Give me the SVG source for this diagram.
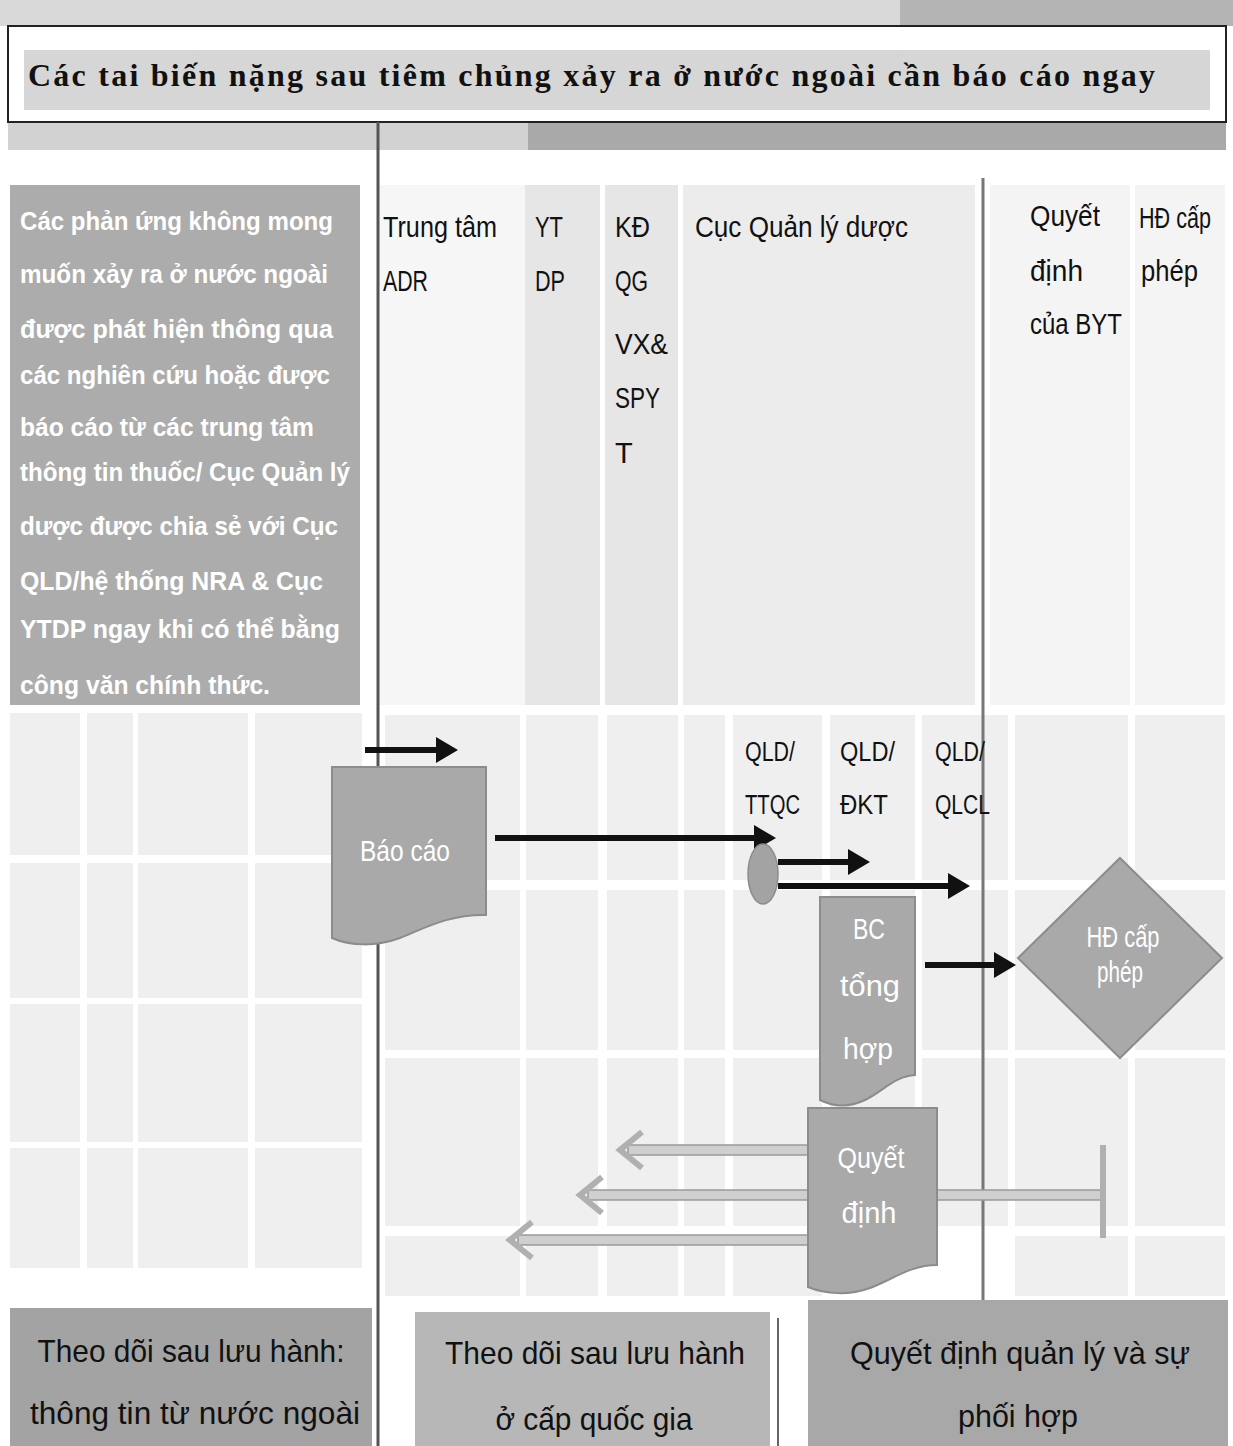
<svg xmlns="http://www.w3.org/2000/svg" width="1233" height="1446" viewBox="0 0 1233 1446">
<style>
.hdr{font-family:"Liberation Sans","Noto Sans",sans-serif;font-size:29px;fill:#111;}
.sub{font-family:"Liberation Sans","Noto Sans",sans-serif;font-size:27px;fill:#111;}
.wt{font-family:"Liberation Sans","Noto Sans",sans-serif;font-size:29px;fill:#fff;}
.lt{font-family:"Liberation Sans","Noto Sans",sans-serif;font-size:26px;fill:#fff;font-weight:bold;}
.bt{font-family:"Liberation Sans","Noto Sans",sans-serif;font-size:32px;fill:#111;}
.cell{fill:#efefef;}
.ucol{fill:#e6e6e6;}
.shape{fill:#a9a9a9;stroke:#8c8c8c;stroke-width:2;}
.blk{stroke:#111;stroke-width:6;fill:none;}
.garr{fill:#cfcfcf;stroke:#9a9a9a;stroke-width:1.5;}
.ghead{fill:none;stroke:#b0b0b0;stroke-width:6;stroke-linejoin:miter;}
</style>
<defs>
<marker id="ah" markerUnits="userSpaceOnUse" markerWidth="22" markerHeight="26" refX="2" refY="13" orient="auto">
<path d="M0,0 L22,13 L0,26 Z" fill="#111"/>
</marker>
</defs>
<rect width="1233" height="1446" fill="#fff"/>
<g id="background">
<rect x="0" y="0" width="1233" height="26" fill="#d9d9d9"/>
<rect x="900" y="0" width="333" height="26" fill="#b4b4b4"/>
<rect x="8" y="122" width="520" height="28" fill="#d2d2d2"/>
<rect x="528" y="122" width="698" height="28" fill="#a9a9a9"/>
<rect x="378" y="185" width="147" height="520" fill="#f6f6f6"/>
<rect class="ucol" x="525" y="185" width="75" height="520"/>
<rect class="ucol" x="605" y="185" width="73" height="520"/>
<rect x="683" y="185" width="292" height="520" fill="#ececec"/>
<rect x="990" y="185" width="140" height="520" fill="#f4f4f4"/>
<rect x="1135" y="185" width="90" height="520" fill="#f4f4f4"/>
<g id="grid">
<rect class="cell" x="10" y="713" width="70" height="142"/><rect class="cell" x="87" y="713" width="46" height="142"/><rect class="cell" x="138" y="713" width="110" height="142"/><rect class="cell" x="255" y="713" width="107" height="142"/>
<rect class="cell" x="10" y="863" width="70" height="135"/><rect class="cell" x="87" y="863" width="46" height="135"/><rect class="cell" x="138" y="863" width="110" height="135"/><rect class="cell" x="255" y="863" width="107" height="135"/>
<rect class="cell" x="10" y="1004" width="70" height="138"/><rect class="cell" x="87" y="1004" width="46" height="138"/><rect class="cell" x="138" y="1004" width="110" height="138"/><rect class="cell" x="255" y="1004" width="107" height="138"/>
<rect class="cell" x="10" y="1148" width="70" height="120"/><rect class="cell" x="87" y="1148" width="46" height="120"/><rect class="cell" x="138" y="1148" width="110" height="120"/><rect class="cell" x="255" y="1148" width="107" height="120"/>
<rect class="cell" x="385" y="715" width="135" height="165"/><rect class="cell" x="526" y="715" width="72" height="165"/><rect class="cell" x="607" y="715" width="71" height="165"/><rect class="cell" x="684" y="715" width="41" height="165"/><rect class="cell" x="733" y="715" width="89" height="165"/><rect class="cell" x="830" y="715" width="85" height="165"/><rect class="cell" x="922" y="715" width="86" height="165"/><rect class="cell" x="1015" y="715" width="113" height="165"/><rect class="cell" x="1135" y="715" width="90" height="165"/>
<rect class="cell" x="385" y="890" width="135" height="160"/><rect class="cell" x="526" y="890" width="72" height="160"/><rect class="cell" x="607" y="890" width="71" height="160"/><rect class="cell" x="684" y="890" width="41" height="160"/><rect class="cell" x="733" y="890" width="89" height="160"/><rect class="cell" x="830" y="890" width="85" height="160"/><rect class="cell" x="922" y="890" width="86" height="160"/><rect class="cell" x="1015" y="890" width="113" height="160"/><rect class="cell" x="1135" y="890" width="90" height="160"/>
<rect class="cell" x="385" y="1058" width="135" height="168"/><rect class="cell" x="526" y="1058" width="72" height="168"/><rect class="cell" x="607" y="1058" width="71" height="168"/><rect class="cell" x="684" y="1058" width="41" height="168"/><rect class="cell" x="733" y="1058" width="89" height="168"/><rect class="cell" x="830" y="1058" width="85" height="168"/><rect class="cell" x="922" y="1058" width="86" height="168"/><rect class="cell" x="1015" y="1058" width="113" height="168"/><rect class="cell" x="1135" y="1058" width="90" height="168"/>
<rect class="cell" x="385" y="1236" width="135" height="60"/><rect class="cell" x="526" y="1236" width="72" height="60"/><rect class="cell" x="607" y="1236" width="71" height="60"/><rect class="cell" x="684" y="1236" width="41" height="60"/><rect class="cell" x="733" y="1236" width="89" height="60"/><rect class="cell" x="1015" y="1236" width="113" height="60"/><rect class="cell" x="1135" y="1236" width="90" height="60"/>
</g>
</g>
<g id="title">
<rect x="8" y="26" width="1218" height="96" fill="#fff" stroke="#222" stroke-width="2"/>
<rect x="24" y="50" width="1186" height="60" fill="#d6d6d6"/>
<text x="28" y="86" font-family="'Liberation Serif','Noto Serif',serif" font-size="32" font-weight="bold" fill="#111" textLength="1127" lengthAdjust="spacing">Các tai biến nặng sau tiêm chủng xảy ra ở nước ngoài cần báo cáo ngay</text>
</g>
<g id="lane-lines">
<line x1="378" y1="122" x2="378" y2="1446" stroke="#555" stroke-width="3"/>
<line x1="983" y1="178" x2="983" y2="1310" stroke="#777" stroke-width="3"/>
<line x1="778" y1="1318" x2="778" y2="1446" stroke="#666" stroke-width="2"/>
</g>
<g id="note-foreign">
<rect x="10" y="185" width="350" height="520" fill="#acacac"/>
<text class="lt" x="20" y="230" textLength="313" lengthAdjust="spacingAndGlyphs">Các phản ứng không mong</text>
<text class="lt" x="20" y="283" textLength="308" lengthAdjust="spacingAndGlyphs">muốn xảy ra ở nước ngoài</text>
<text class="lt" x="20" y="338" textLength="313" lengthAdjust="spacingAndGlyphs">được phát hiện thông qua</text>
<text class="lt" x="20" y="384" textLength="310" lengthAdjust="spacingAndGlyphs">các nghiên cứu hoặc được</text>
<text class="lt" x="20" y="436" textLength="294" lengthAdjust="spacingAndGlyphs">báo cáo từ các trung tâm</text>
<text class="lt" x="20" y="481" textLength="330" lengthAdjust="spacingAndGlyphs">thông tin thuốc/ Cục Quản lý</text>
<text class="lt" x="20" y="535" textLength="318" lengthAdjust="spacingAndGlyphs">dược được chia sẻ với Cục</text>
<text class="lt" x="20" y="590" textLength="303" lengthAdjust="spacingAndGlyphs">QLD/hệ thống NRA &amp; Cục</text>
<text class="lt" x="20" y="638" textLength="320" lengthAdjust="spacingAndGlyphs">YTDP ngay khi có thể bằng</text>
<text class="lt" x="20" y="694" textLength="250" lengthAdjust="spacingAndGlyphs">công văn chính thức.</text>
</g>
<g id="headers">
<text class="hdr" x="383" y="237" textLength="114" lengthAdjust="spacingAndGlyphs">Trung tâm</text>
<text class="hdr" x="383" y="291" textLength="45" lengthAdjust="spacingAndGlyphs">ADR</text>
<text class="hdr" x="535" y="237" textLength="28" lengthAdjust="spacingAndGlyphs">YT</text>
<text class="hdr" x="535" y="291" textLength="30" lengthAdjust="spacingAndGlyphs">DP</text>
<text class="hdr" x="615" y="237" textLength="35" lengthAdjust="spacingAndGlyphs">KĐ</text>
<text class="hdr" x="615" y="291" textLength="33" lengthAdjust="spacingAndGlyphs">QG</text>
<text class="hdr" x="615" y="354" textLength="53" lengthAdjust="spacingAndGlyphs">VX&amp;</text>
<text class="hdr" x="615" y="408" textLength="45" lengthAdjust="spacingAndGlyphs">SPY</text>
<text class="hdr" x="615" y="463">T</text>
<text class="hdr" x="695" y="237" textLength="213" lengthAdjust="spacingAndGlyphs">Cục Quản lý dược</text>
<text class="hdr" x="1030" y="226" textLength="70" lengthAdjust="spacingAndGlyphs">Quyết</text>
<text class="hdr" x="1030" y="281" textLength="53" lengthAdjust="spacingAndGlyphs">định</text>
<text class="hdr" x="1030" y="334" textLength="92" lengthAdjust="spacingAndGlyphs">của BYT</text>
<text class="hdr" x="1139" y="228" font-size="23" textLength="72" lengthAdjust="spacingAndGlyphs">HĐ cấp</text>
<text class="hdr" x="1141" y="281" font-size="27" textLength="57" lengthAdjust="spacingAndGlyphs">phép</text>
<text class="sub" x="745" y="761" textLength="50" lengthAdjust="spacingAndGlyphs">QLD/</text>
<text class="sub" x="745" y="814" textLength="55" lengthAdjust="spacingAndGlyphs">TTQC</text>
<text class="sub" x="840" y="761" textLength="55" lengthAdjust="spacingAndGlyphs">QLD/</text>
<text class="sub" x="840" y="814" textLength="48" lengthAdjust="spacingAndGlyphs">ĐKT</text>
<text class="sub" x="935" y="761" textLength="50" lengthAdjust="spacingAndGlyphs">QLD/</text>
<text class="sub" x="935" y="814" textLength="55" lengthAdjust="spacingAndGlyphs">QLCL</text>
</g>
<g id="connectors">
<line class="blk" x1="365" y1="750" x2="438" y2="750" marker-end="url(#ah)"/>
<line class="blk" x1="495" y1="838" x2="756" y2="838" marker-end="url(#ah)"/>
<line class="blk" x1="778" y1="862" x2="850" y2="862" marker-end="url(#ah)"/>
<line class="blk" x1="778" y1="886" x2="950" y2="886" marker-end="url(#ah)"/>
<line class="blk" x1="925" y1="965" x2="996" y2="965" marker-end="url(#ah)"/>
<g id="return-arrows">
<rect class="garr" x="628" y="1145" width="180" height="10"/>
<polyline class="ghead" points="642,1132 620,1150 642,1168"/>
<rect class="garr" x="588" y="1190" width="220" height="10"/>
<polyline class="ghead" points="602,1177 580,1195 602,1213"/>
<rect class="garr" x="518" y="1235" width="290" height="10"/>
<polyline class="ghead" points="532,1222 510,1240 532,1258"/>
<rect class="garr" x="937" y="1190" width="166" height="10"/>
<line x1="1103" y1="1145" x2="1103" y2="1238" stroke="#b0b0b0" stroke-width="6"/>
</g>
</g>
<g id="node-baocao">
<path class="shape" d="M332,767 H486 V915 C450,914 425,928 400,938 C375,947 350,946 332,938 Z"/>
<text class="wt" x="405" y="861" text-anchor="middle" textLength="90" lengthAdjust="spacingAndGlyphs">Báo cáo</text>
</g>
<g id="node-ttqc">
<ellipse cx="763" cy="874" rx="15" ry="30" fill="#a3a3a3" stroke="#8c8c8c" stroke-width="1.5"/>
</g>
<g id="node-bctonghop">
<path class="shape" d="M820,897 H915 V1075 C895,1076 882,1092 865,1100 C848,1108 832,1106 820,1100 Z"/>
<text class="wt" x="869" y="939" text-anchor="middle" textLength="32" lengthAdjust="spacingAndGlyphs">BC</text>
<text class="wt" x="870" y="996" text-anchor="middle" textLength="60" lengthAdjust="spacingAndGlyphs">tổng</text>
<text class="wt" x="868" y="1059" text-anchor="middle" textLength="50" lengthAdjust="spacingAndGlyphs">hợp</text>
</g>
<g id="node-hdcapphep">
<polygon class="shape" points="1120,858 1222,958 1120,1058 1018,958"/>
<text class="wt" x="1123" y="947" text-anchor="middle" font-size="24" textLength="73" lengthAdjust="spacingAndGlyphs">HĐ cấp</text>
<text class="wt" x="1120" y="982" text-anchor="middle" font-size="24" textLength="46" lengthAdjust="spacingAndGlyphs">phép</text>
</g>
<g id="node-quyetdinh">
<path class="shape" d="M808,1108 H937 V1265 C910,1265 892,1280 870,1288 C848,1296 825,1294 808,1287 Z"/>
<text class="wt" x="871" y="1168" text-anchor="middle" textLength="67" lengthAdjust="spacingAndGlyphs">Quyết</text>
<text class="wt" x="869" y="1223" text-anchor="middle" textLength="55" lengthAdjust="spacingAndGlyphs">định</text>
</g>
<g id="lane-foreign">
<rect x="10" y="1308" width="362" height="138" fill="#a3a3a3"/>
<text class="bt" x="191" y="1362" text-anchor="middle" textLength="307" lengthAdjust="spacingAndGlyphs">Theo dõi sau lưu hành:</text>
<text class="bt" x="195" y="1424" text-anchor="middle" textLength="330" lengthAdjust="spacingAndGlyphs">thông tin từ nước ngoài</text>
</g>
<g id="lane-national">
<rect x="415" y="1312" width="355" height="134" fill="#b7b7b7"/>
<text class="bt" x="595" y="1364" text-anchor="middle" textLength="300" lengthAdjust="spacingAndGlyphs">Theo dõi sau lưu hành</text>
<text class="bt" x="594" y="1430" text-anchor="middle" textLength="197" lengthAdjust="spacingAndGlyphs">ở cấp quốc gia</text>
</g>
<g id="lane-decision">
<rect x="808" y="1300" width="420" height="146" fill="#a8a8a8"/>
<text class="bt" x="1020" y="1364" text-anchor="middle" textLength="340" lengthAdjust="spacingAndGlyphs">Quyết định quản lý và sự</text>
<text class="bt" x="1018" y="1427" text-anchor="middle" textLength="120" lengthAdjust="spacingAndGlyphs">phối hợp</text>
</g>
</svg>
